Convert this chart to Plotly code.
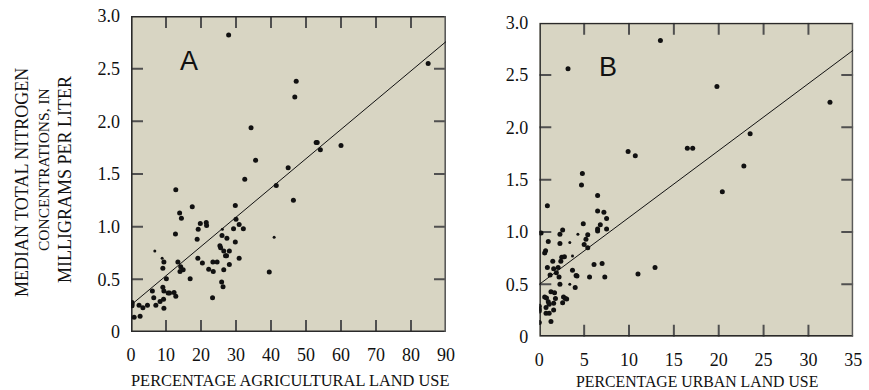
import plotly.graph_objects as go

# ---- Panel A data (percentage agricultural land use vs median TN, mg/L)
agri_x = [27.9, 84.9, 47.2, 46.8, 34.3, 35.6, 52.9, 53.2, 54.1, 60.0, 44.9, 32.5, 41.5, 12.8, 46.4,
          17.5, 13.9, 14.4, 29.8, 30.0, 12.7, 19.8, 21.5, 21.6, 19.2, 18.9, 29.3, 30.9, 32.1,
          26.0, 27.4, 29.8, 25.4, 25.6, 26.5, 28.1, 27.0, 27.3, 28.1, 26.5, 30.9, 25.9, 26.3,
          23.4, 24.6, 20.4, 19.1, 22.2, 23.5, 23.3, 16.9, 13.4, 14.2, 14.0, 14.9, 39.5,
          9.4, 9.1, 10.1, 9.1, 9.4, 10.6, 11.0, 12.3, 12.8, 6.1, 6.5, 8.3, 7.1, 9.3, 9.4,
          4.7, 3.4, 2.3, 0.3, 0.3, 0.3, 0.9, 2.6]
agri_y = [2.82, 2.55, 2.38, 2.23, 1.94, 1.63, 1.80, 1.80, 1.73, 1.77, 1.56, 1.45, 1.39, 1.35, 1.25,
          1.19, 1.13, 1.08, 1.20, 1.07, 0.93, 1.03, 1.04, 1.01, 0.975, 0.88, 0.98, 1.02, 0.98,
          0.915, 0.89, 0.855, 0.82, 0.80, 0.77, 0.77, 0.725, 0.725, 0.64, 0.59, 0.70, 0.475, 0.43,
          0.665, 0.665, 0.655, 0.70, 0.595, 0.575, 0.325, 0.505, 0.665, 0.62, 0.575, 0.59, 0.57,
          0.665, 0.605, 0.505, 0.425, 0.39, 0.37, 0.37, 0.375, 0.34, 0.39, 0.325, 0.29, 0.255, 0.31, 0.225,
          0.255, 0.23, 0.255, 0.28, 0.265, 0.25, 0.14, 0.15]
agri_small_x = [26.1, 40.9, 6.8, 8.9]
agri_small_y = [0.975, 0.90, 0.77, 0.70]
agri_fit_x = [0, 90]
agri_fit_y = [0.256, 2.757]

# ---- Panel B data (percentage urban land use vs median TN, mg/L)
urban_x = [3.2, 13.5, 19.8, 32.4, 23.5, 16.5, 17.1, 9.9, 10.7, 22.8, 4.8, 4.7, 6.5, 20.4,
           0.9, 6.5, 7.2, 7.5, 6.8, 6.5, 6.5, 7.5, 4.9, 2.6, 0.2, 2.3, 5.4, 5.2, 5.0, 5.4,
           1.0, 2.3, 0.7, 0.6, 1.5, 2.5, 2.8, 2.4, 0.9, 1.6, 2.1, 1.9, 1.2, 2.2, 3.7, 4.1, 4.2,
           2.3, 4.0, 6.1, 7.0, 5.6, 7.3, 11.0, 12.9, 0.6, 0.8, 1.3, 1.7, 1.0, 1.1, 1.6, 1.8,
           0.75, 1.6, 2.7, 2.9, 3.05, 2.6, 0.75, 1.1, 1.3, 0.0, 0.0, 0.0, 0.0]
urban_y = [2.56, 2.83, 2.39, 2.24, 1.94, 1.80, 1.80, 1.77, 1.73, 1.63, 1.56, 1.45, 1.35, 1.385,
           1.25, 1.20, 1.19, 1.13, 1.07, 1.03, 1.01, 1.03, 1.08, 1.02, 0.99, 0.98, 0.975, 0.93, 0.88, 0.85,
           0.91, 0.89, 0.82, 0.80, 0.72, 0.76, 0.765, 0.72, 0.66, 0.65, 0.66, 0.61, 0.59, 0.57, 0.635, 0.585, 0.58,
           0.50, 0.47, 0.69, 0.70, 0.57, 0.57, 0.60, 0.66, 0.38, 0.37, 0.43, 0.42, 0.335, 0.31, 0.32, 0.365,
           0.28, 0.255, 0.38, 0.365, 0.36, 0.325, 0.225, 0.225, 0.145, 0.29, 0.265, 0.245, 0.135]
urban_small_x = [4.3, 3.4, 3.7, 3.4]
urban_small_y = [0.98, 0.90, 0.77, 0.50]
urban_fit_x = [0, 35]
urban_fit_y = [0.50, 2.738]

y_ticks = [0, 0.5, 1.0, 1.5, 2.0, 2.5, 3.0]
y_ticktext = ["0", "0.5", "1.0", "1.5", "2.0", "2.5", "3.0"]
agri_ticks = [0, 10, 20, 30, 40, 50, 60, 70, 80, 90]
urban_ticks = [0, 5, 10, 15, 20, 25, 30, 35]

W, H = 869, 390
BG = "#d8d5c3"
DOT = "#111111"
FRAME = "#2a2a2a"
TICK = "#505050"
SERIF = "Liberation Serif, Times New Roman, serif"
TICK_PX = 12

doms = {
    "A": dict(x=[131 / W, 446 / W], y=[1 - 332 / H, 1 - 16 / H]),
    "B": dict(x=[539.3 / W, 853.3 / W], y=[1 - 336.7 / H, 1 - 22.7 / H]),
}

fig = go.Figure()

def rects_trace(xa, ya, rects, color):
    xs, ys = [], []
    for (ax0, ax1, ay0, ay1) in rects:
        xs += [ax0, ax1, ax1, ax0, ax0, None]
        ys += [ay0, ay0, ay1, ay1, ay0, None]
    fig.add_trace(go.Scatter(x=xs, y=ys, mode="lines", fill="toself", fillcolor=color,
                             line=dict(width=0, color=color), xaxis=xa, yaxis=ya,
                             showlegend=False, hoverinfo="skip"))

def add_frame(xa, ya, xticks, yticks, key):
    """Inside ticks on all four sides plus a box, as thin filled bands on the axes' scales."""
    x0, x1 = xticks[0], xticks[-1]
    y0, y1 = yticks[0], yticks[-1]
    wpx = (doms[key]["x"][1] - doms[key]["x"][0]) * W
    hpx = (doms[key]["y"][1] - doms[key]["y"][0]) * H
    px_x = (x1 - x0) / wpx
    px_y = (y1 - y0) / hpx
    dx, dy = TICK_PX * px_x, TICK_PX * px_y
    ticks = []
    for v in xticks[1:-1]:
        ticks.append((v - px_x, v + px_x, y0, y0 + dy))
        ticks.append((v - px_x, v + px_x, y1 - dy, y1))
    for v in yticks[1:-1]:
        ticks.append((x0, x0 + dx, v - px_y, v + px_y))
        ticks.append((x1 - dx, x1, v - px_y, v + px_y))
    rects_trace(xa, ya, ticks, TICK)
    bx, by = 1.6 * px_x, 1.6 * px_y
    frame = [(x0, x1, y0, y0 + by), (x0, x1, y1 - by, y1),
             (x0, x0 + bx, y0, y1)]
    rects_trace(xa, ya, frame, FRAME)
    rects_trace(xa, ya, [(x1 - bx, x1, y0, y1)], "#5a5a5a")

def add_panel(xs, ys, sx, sy, fx, fy, xa, ya):
    fig.add_trace(go.Scatter(x=xs, y=ys, mode="markers", xaxis=xa, yaxis=ya,
                             marker=dict(size=5, color=DOT, line=dict(width=0)),
                             showlegend=False, hoverinfo="skip"))
    fig.add_trace(go.Scatter(x=sx, y=sy, mode="markers", xaxis=xa, yaxis=ya,
                             marker=dict(size=3, color=DOT, line=dict(width=0)),
                             showlegend=False, hoverinfo="skip"))
    fig.add_trace(go.Scatter(x=fx, y=fy, mode="lines", xaxis=xa, yaxis=ya,
                             line=dict(color="#111111", width=1), showlegend=False, hoverinfo="skip"))

add_frame("x", "y", agri_ticks, y_ticks, "A")
add_frame("x2", "y2", urban_ticks, y_ticks, "B")
add_panel(agri_x, agri_y, agri_small_x, agri_small_y, agri_fit_x, agri_fit_y, "x", "y")
add_panel(urban_x, urban_y, urban_small_x, urban_small_y, urban_fit_x, urban_fit_y, "x2", "y2")

axis_style = dict(showgrid=False, zeroline=False, showline=False, ticks="", automargin=False,
                  tickfont=dict(family=SERIF, size=18, color="#111111"), ticklabelstandoff=10)

fig.update_layout(
    template="none",
    width=W, height=H,
    margin=dict(l=0, r=0, t=0, b=0, pad=0, autoexpand=False),
    paper_bgcolor="white",
    plot_bgcolor=BG,
    showlegend=False,
    font=dict(family=SERIF, color="#111111"),
    xaxis=dict(domain=doms["A"]["x"], range=[0, 90], tickvals=agri_ticks, anchor="y", **axis_style),
    yaxis=dict(domain=doms["A"]["y"], range=[0, 3.0], tickvals=y_ticks, ticktext=y_ticktext,
               anchor="x", **axis_style),
    xaxis2=dict(domain=doms["B"]["x"], range=[0, 35], tickvals=urban_ticks, anchor="y2", **axis_style),
    yaxis2=dict(domain=doms["B"]["y"], range=[0, 3.0], tickvals=y_ticks, ticktext=y_ticktext,
                anchor="x2", **axis_style),
)

fig.add_annotation(text="PERCENTAGE AGRICULTURAL LAND USE", x=290 / W, y=1 - 380 / H, xref="paper", yref="paper",
                   showarrow=False, font=dict(family=SERIF, size=16.4, color="#111111"),
                   xanchor="center", yanchor="middle")
fig.add_annotation(text="PERCENTAGE URBAN LAND USE", x=697 / W, y=1 - 381 / H, xref="paper", yref="paper",
                   showarrow=False, font=dict(family=SERIF, size=15.8, color="#111111"),
                   xanchor="center", yanchor="middle")
ytitle_lines = [("MEDIAN TOTAL NITROGEN", 22, 183, 18), ("CONCENTRATIONS, IN", 43, 170, 15.5),
                ("MILLIGRAMS PER LITER", 65, 180, 18)]
for txt, px, py, fs in ytitle_lines:
    fig.add_annotation(text=txt, x=px / W, y=1 - py / H, xref="paper", yref="paper", textangle=-90,
                       showarrow=False, font=dict(family=SERIF, size=fs, color="#111111"),
                       xanchor="center", yanchor="middle")
fig.add_annotation(text="A", x=189 / W, y=1 - 61 / H, xref="paper", yref="paper", showarrow=False,
                   xanchor="center", yanchor="middle",
                   font=dict(family="Liberation Sans, Arial, sans-serif", size=27, color="#111111"))
fig.add_annotation(text="B", x=608 / W, y=1 - 67 / H, xref="paper", yref="paper", showarrow=False,
                   xanchor="center", yanchor="middle",
                   font=dict(family="Liberation Sans, Arial, sans-serif", size=27, color="#111111"))

fig.write_html("out.html")
